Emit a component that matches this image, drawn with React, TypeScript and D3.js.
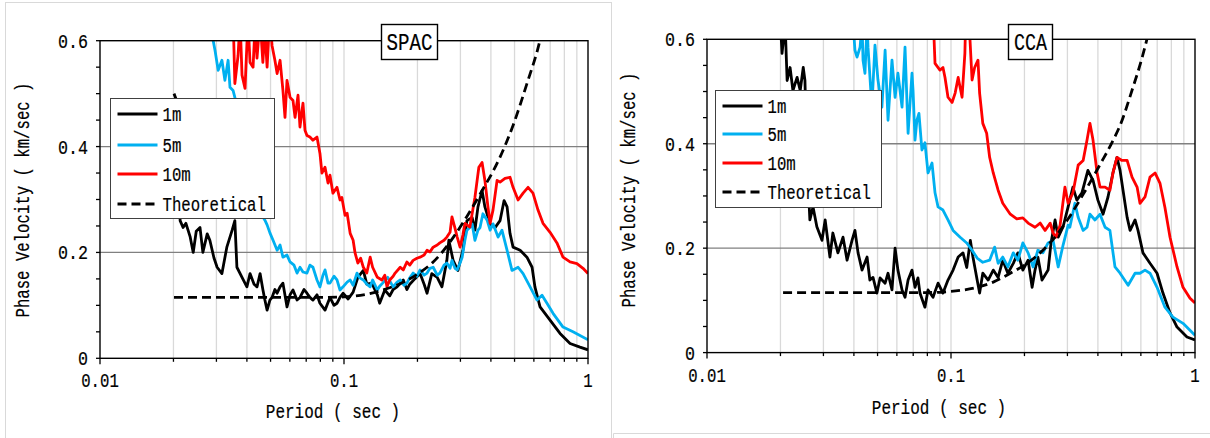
import React from "react";
import * as d3 from "d3";

type Pt = [number, number];

// ---------- shared axis data ----------
const xTickValues = [0.01, 0.1, 1];
const xTickLabels = ["0.01", "0.1", "1"];
const yTickValues = [0, 0.2, 0.4, 0.6];
const yTickLabels = ["0", "0.2", "0.4", "0.6"];
const seriesNames = ["1m", "5m", "10m", "Theoretical"];
const seriesColors = ["#000000", "#00b0f0", "#ff0000", "#000000"];
const xTitle = "Period ( sec )";
const yTitle = "Phase Velocity ( km/sec )";
const panelTitles = ["SPAC", "CCA"];

// ---------- SPAC (period sec, phase velocity km/s) ----------
const spac1m: Pt[] = [
  [0.0201, 0.5], [0.0205, 0.49], [0.0209, 0.42], [0.0213, 0.26], [0.0219, 0.247], [0.0225, 0.255],
  [0.0234, 0.23], [0.0241, 0.2], [0.0248, 0.24], [0.0257, 0.247], [0.0264, 0.2], [0.0275, 0.235],
  [0.0282, 0.223], [0.0293, 0.19], [0.0302, 0.172], [0.0316, 0.16], [0.0331, 0.21], [0.0348, 0.242],
  [0.0357, 0.26], [0.0364, 0.172], [0.0382, 0.153], [0.04, 0.135], [0.0412, 0.16], [0.0428, 0.14],
  [0.044, 0.135], [0.0453, 0.16], [0.0465, 0.13], [0.0474, 0.11], [0.0484, 0.091], [0.0497, 0.11],
  [0.0507, 0.115], [0.0521, 0.13], [0.0532, 0.123], [0.0547, 0.135], [0.0562, 0.142], [0.0584, 0.097],
  [0.0601, 0.12], [0.0618, 0.129], [0.0642, 0.11], [0.066, 0.115], [0.0686, 0.13], [0.0705, 0.123],
  [0.0725, 0.115], [0.0746, 0.11], [0.0775, 0.12], [0.0797, 0.104], [0.0836, 0.091], [0.0876, 0.115],
  [0.091, 0.1], [0.0936, 0.104], [0.0963, 0.115], [0.0991, 0.123], [0.104, 0.112], [0.109, 0.125],
  [0.114, 0.153], [0.12, 0.166], [0.124, 0.14], [0.13, 0.142], [0.137, 0.12], [0.14, 0.104],
  [0.147, 0.129], [0.154, 0.118], [0.159, 0.13], [0.165, 0.135], [0.175, 0.148], [0.181, 0.13],
  [0.186, 0.14], [0.195, 0.15], [0.205, 0.16], [0.213, 0.14], [0.219, 0.123], [0.229, 0.16],
  [0.241, 0.153], [0.252, 0.135], [0.264, 0.185], [0.269, 0.223], [0.28, 0.185], [0.293, 0.166],
  [0.307, 0.204], [0.319, 0.26], [0.335, 0.266], [0.344, 0.242], [0.354, 0.286], [0.368, 0.317],
  [0.378, 0.286], [0.397, 0.254], [0.416, 0.247], [0.436, 0.26], [0.453, 0.298], [0.466, 0.286],
  [0.479, 0.236], [0.493, 0.21], [0.527, 0.204], [0.562, 0.191], [0.59, 0.172], [0.606, 0.135],
  [0.636, 0.097], [0.699, 0.072], [0.768, 0.047], [0.844, 0.028], [0.927, 0.021], [1.0, 0.016],
];

const spac5m: Pt[] = [
  [0.0288, 0.65], [0.0291, 0.6], [0.0296, 0.582], [0.0305, 0.544], [0.0316, 0.563], [0.0325, 0.525],
  [0.0335, 0.563], [0.0341, 0.512], [0.0351, 0.506], [0.0357, 0.493], [0.0393, 0.42], [0.0432, 0.33],
  [0.0461, 0.27], [0.0474, 0.261], [0.0484, 0.252], [0.0497, 0.237], [0.0512, 0.223], [0.0532, 0.204],
  [0.0547, 0.214], [0.0562, 0.191], [0.0584, 0.195], [0.0601, 0.182], [0.0624, 0.176], [0.0642, 0.161],
  [0.066, 0.172], [0.0679, 0.163], [0.0705, 0.161], [0.0725, 0.176], [0.0746, 0.172], [0.0775, 0.148],
  [0.0797, 0.135], [0.082, 0.157], [0.0836, 0.167], [0.086, 0.142], [0.0876, 0.142], [0.091, 0.155],
  [0.0936, 0.148], [0.0963, 0.129], [0.0991, 0.135], [0.103, 0.144], [0.106, 0.148], [0.109, 0.138],
  [0.113, 0.161], [0.116, 0.152], [0.12, 0.148], [0.124, 0.14], [0.128, 0.135], [0.131, 0.148],
  [0.137, 0.129], [0.14, 0.136], [0.144, 0.142], [0.151, 0.153], [0.159, 0.135], [0.165, 0.144],
  [0.17, 0.148], [0.176, 0.138], [0.181, 0.142], [0.186, 0.152], [0.192, 0.161], [0.199, 0.155],
  [0.205, 0.167], [0.213, 0.157], [0.219, 0.161], [0.225, 0.17], [0.232, 0.172], [0.241, 0.157],
  [0.247, 0.161], [0.257, 0.176], [0.264, 0.18], [0.272, 0.17], [0.277, 0.185], [0.285, 0.17],
  [0.291, 0.167], [0.299, 0.18], [0.305, 0.191], [0.313, 0.223], [0.319, 0.242], [0.328, 0.247],
  [0.335, 0.254], [0.344, 0.223], [0.354, 0.242], [0.361, 0.247], [0.371, 0.273], [0.386, 0.261],
  [0.397, 0.242], [0.408, 0.254], [0.428, 0.229], [0.444, 0.242], [0.466, 0.204], [0.488, 0.166],
  [0.517, 0.172], [0.542, 0.16], [0.579, 0.135], [0.618, 0.11], [0.648, 0.119], [0.679, 0.104],
  [0.719, 0.085], [0.79, 0.059], [0.868, 0.05], [1.0, 0.035],
];

const spac10m: Pt[] = [
  [0.0351, 0.65], [0.0357, 0.519], [0.0368, 0.572], [0.0375, 0.64], [0.0382, 0.535], [0.0393, 0.51],
  [0.0404, 0.64], [0.0412, 0.559], [0.0424, 0.55], [0.0432, 0.63], [0.044, 0.567], [0.0453, 0.64],
  [0.0465, 0.559], [0.0474, 0.62], [0.0484, 0.55], [0.0497, 0.65], [0.0507, 0.591], [0.0521, 0.563],
  [0.0532, 0.538], [0.0547, 0.563], [0.0562, 0.506], [0.0573, 0.455], [0.0584, 0.525], [0.0601, 0.493],
  [0.0618, 0.487], [0.063, 0.455], [0.0648, 0.497], [0.066, 0.437], [0.0679, 0.482], [0.0692, 0.431],
  [0.0705, 0.421], [0.0725, 0.418], [0.0746, 0.412], [0.0775, 0.418], [0.0797, 0.387], [0.0812, 0.35],
  [0.0836, 0.361], [0.086, 0.331], [0.0876, 0.346], [0.0901, 0.312], [0.0936, 0.323], [0.0963, 0.299],
  [0.098, 0.304], [0.101, 0.27], [0.103, 0.274], [0.106, 0.236], [0.109, 0.223], [0.111, 0.199],
  [0.114, 0.18], [0.117, 0.189], [0.12, 0.172], [0.124, 0.161], [0.128, 0.191], [0.131, 0.172],
  [0.137, 0.153], [0.143, 0.148], [0.147, 0.157], [0.15, 0.135], [0.154, 0.148], [0.159, 0.155],
  [0.162, 0.161], [0.17, 0.172], [0.175, 0.167], [0.181, 0.182], [0.186, 0.176], [0.192, 0.185],
  [0.199, 0.189], [0.205, 0.191], [0.213, 0.195], [0.219, 0.204], [0.225, 0.201], [0.232, 0.21],
  [0.241, 0.214], [0.247, 0.218], [0.257, 0.223], [0.264, 0.229], [0.272, 0.238], [0.277, 0.267],
  [0.285, 0.246], [0.291, 0.229], [0.299, 0.21], [0.307, 0.233], [0.313, 0.255], [0.328, 0.248],
  [0.344, 0.304], [0.357, 0.361], [0.368, 0.37], [0.378, 0.336], [0.389, 0.286], [0.397, 0.255],
  [0.408, 0.28], [0.424, 0.336], [0.436, 0.333], [0.457, 0.34], [0.479, 0.342], [0.493, 0.323],
  [0.517, 0.299], [0.542, 0.312], [0.568, 0.323], [0.595, 0.312], [0.624, 0.28], [0.654, 0.255],
  [0.699, 0.238], [0.746, 0.218], [0.79, 0.191], [0.844, 0.182], [0.901, 0.179], [0.954, 0.17],
  [1.0, 0.16],
];

const spacTheory: Pt[] = [
  [0.0201, 0.115], [0.05, 0.115], [0.08, 0.115], [0.1, 0.116], [0.124, 0.121], [0.144, 0.129],
  [0.17, 0.141], [0.2, 0.159], [0.232, 0.182], [0.25, 0.198], [0.28, 0.228], [0.319, 0.268],
  [0.361, 0.31], [0.436, 0.38], [0.493, 0.44], [0.562, 0.519], [0.635, 0.6], [0.66, 0.635],
];

// ---------- CCA ----------
const cca1m: Pt[] = [
  [0.02, 0.63], [0.0203, 0.573], [0.0209, 0.63], [0.0213, 0.521], [0.0219, 0.546], [0.0225, 0.502],
  [0.0234, 0.527], [0.0241, 0.502], [0.0248, 0.546], [0.0252, 0.521], [0.0257, 0.37], [0.0264, 0.254],
  [0.0272, 0.279], [0.0282, 0.241], [0.0296, 0.215], [0.0305, 0.254], [0.0319, 0.183], [0.0328, 0.229],
  [0.0344, 0.191], [0.0361, 0.221], [0.0375, 0.177], [0.0393, 0.215], [0.0404, 0.234], [0.0416, 0.191],
  [0.0432, 0.158], [0.0453, 0.183], [0.0465, 0.139], [0.0479, 0.144], [0.0497, 0.114], [0.0512, 0.143],
  [0.0537, 0.133], [0.0552, 0.152], [0.0573, 0.12], [0.059, 0.2], [0.0606, 0.158], [0.063, 0.12],
  [0.0648, 0.106], [0.0667, 0.139], [0.0692, 0.158], [0.0712, 0.125], [0.0732, 0.143], [0.0746, 0.114],
  [0.0782, 0.087], [0.0805, 0.12], [0.0844, 0.106], [0.0885, 0.133], [0.0927, 0.114], [0.0972, 0.139],
  [0.102, 0.158], [0.107, 0.183], [0.112, 0.191], [0.116, 0.163], [0.12, 0.215], [0.123, 0.183],
  [0.128, 0.139], [0.131, 0.114], [0.135, 0.152], [0.142, 0.139], [0.149, 0.158], [0.156, 0.144],
  [0.163, 0.177], [0.171, 0.152], [0.18, 0.171], [0.188, 0.191], [0.197, 0.158], [0.207, 0.177],
  [0.215, 0.125], [0.221, 0.158], [0.227, 0.183], [0.236, 0.139], [0.25, 0.158], [0.257, 0.21],
  [0.267, 0.254], [0.275, 0.221], [0.288, 0.241], [0.302, 0.279], [0.316, 0.317], [0.328, 0.292],
  [0.344, 0.306], [0.364, 0.349], [0.382, 0.33], [0.4, 0.292], [0.42, 0.265], [0.44, 0.298],
  [0.461, 0.344], [0.479, 0.374], [0.493, 0.349], [0.507, 0.311], [0.527, 0.259], [0.542, 0.234],
  [0.568, 0.254], [0.584, 0.234], [0.612, 0.191], [0.654, 0.171], [0.699, 0.152], [0.739, 0.114],
  [0.79, 0.076], [0.844, 0.049], [0.927, 0.03], [1.0, 0.024],
];

const cca5m: Pt[] = [
  [0.0397, 0.63], [0.0404, 0.579], [0.0412, 0.566], [0.0424, 0.585], [0.0432, 0.63], [0.0436, 0.56],
  [0.0444, 0.535], [0.0453, 0.63], [0.0457, 0.585], [0.0474, 0.47], [0.0488, 0.589], [0.0502, 0.522],
  [0.0521, 0.47], [0.0537, 0.579], [0.0552, 0.445], [0.0573, 0.56], [0.059, 0.489], [0.0606, 0.535],
  [0.063, 0.47], [0.0648, 0.585], [0.0667, 0.42], [0.0692, 0.535], [0.0699, 0.502], [0.0712, 0.407],
  [0.0725, 0.445], [0.0739, 0.458], [0.076, 0.388], [0.0782, 0.402], [0.0805, 0.344], [0.0836, 0.363],
  [0.086, 0.306], [0.0885, 0.279], [0.0927, 0.273], [0.0972, 0.254], [0.102, 0.234], [0.109, 0.221],
  [0.116, 0.21], [0.122, 0.196], [0.128, 0.181], [0.135, 0.173], [0.144, 0.177], [0.151, 0.202],
  [0.156, 0.171], [0.163, 0.183], [0.171, 0.164], [0.18, 0.191], [0.188, 0.177], [0.197, 0.21],
  [0.207, 0.191], [0.217, 0.164], [0.227, 0.196], [0.238, 0.191], [0.25, 0.21], [0.262, 0.215],
  [0.275, 0.164], [0.288, 0.206], [0.302, 0.244], [0.307, 0.24], [0.322, 0.286], [0.332, 0.259],
  [0.348, 0.234], [0.361, 0.24], [0.371, 0.265], [0.389, 0.254], [0.408, 0.265], [0.428, 0.24],
  [0.448, 0.234], [0.47, 0.164], [0.493, 0.152], [0.532, 0.129], [0.568, 0.152], [0.595, 0.152],
  [0.624, 0.158], [0.654, 0.152], [0.699, 0.125], [0.753, 0.087], [0.812, 0.068], [0.893, 0.056],
  [0.981, 0.037], [1.0, 0.033],
];

const cca10m: Pt[] = [
  [0.0844, 0.65], [0.086, 0.554], [0.0901, 0.541], [0.0927, 0.546], [0.0945, 0.527], [0.0972, 0.489],
  [0.101, 0.479], [0.104, 0.497], [0.107, 0.527], [0.111, 0.489], [0.114, 0.573], [0.115, 0.65],
  [0.119, 0.62], [0.122, 0.522], [0.125, 0.546], [0.129, 0.56], [0.131, 0.497], [0.135, 0.439],
  [0.14, 0.42], [0.144, 0.374], [0.149, 0.344], [0.156, 0.311], [0.163, 0.286], [0.175, 0.265],
  [0.186, 0.256], [0.197, 0.258], [0.207, 0.248], [0.221, 0.24], [0.232, 0.248], [0.243, 0.234],
  [0.255, 0.248], [0.262, 0.229], [0.269, 0.221], [0.28, 0.244], [0.293, 0.317], [0.302, 0.286],
  [0.316, 0.306], [0.332, 0.359], [0.348, 0.368], [0.361, 0.407], [0.371, 0.439], [0.382, 0.407],
  [0.397, 0.344], [0.408, 0.317], [0.428, 0.317], [0.448, 0.311], [0.461, 0.344], [0.479, 0.374],
  [0.502, 0.368], [0.527, 0.368], [0.552, 0.336], [0.579, 0.317], [0.595, 0.286], [0.624, 0.298],
  [0.654, 0.336], [0.686, 0.344], [0.719, 0.324], [0.753, 0.278], [0.79, 0.221], [0.844, 0.164],
  [0.893, 0.125], [0.954, 0.104], [1.0, 0.095],
];

const ccaTheory: Pt[] = [
  [0.0205, 0.115], [0.05, 0.115], [0.08, 0.115], [0.093, 0.116], [0.109, 0.119], [0.128, 0.125],
  [0.149, 0.135], [0.175, 0.152], [0.205, 0.171], [0.238, 0.196], [0.272, 0.226], [0.298, 0.252],
  [0.348, 0.303], [0.408, 0.36], [0.46, 0.405], [0.493, 0.435], [0.556, 0.507], [0.596, 0.552],
  [0.635, 0.6], [0.66, 0.635],
];

// ---------- rendering ----------
const FONT = "'Liberation Mono', 'DejaVu Sans Mono', monospace";
const CW = 9.4;
const FS = 20;

function Txt(props: {
  x: number; y: number; text: string; anchor?: string; size?: number; cw?: number; rotate?: boolean;
}) {
  const { x, y, text, anchor = "start", size = FS, cw = CW, rotate = false } = props;
  return (
    <text
      x={x}
      y={y}
      textAnchor={anchor as any}
      fontFamily={FONT}
      fontSize={size}
      textLength={text.length * cw}
      lengthAdjust="spacingAndGlyphs"
      transform={rotate ? `rotate(-90 ${x} ${y})` : undefined}
      fill="#000"
      stroke="#000"
      strokeWidth={0.2}
    >
      {text}
    </text>
  );
}

type Cfg = {
  id: string;
  left: number; right: number; top: number; bottom: number;
  title: string; box: { x: number; y: number; w: number; h: number; tl: number };
  legend: { x: number; y: number; w: number; h: number; rows: number[] };
  yTitlePos: [number, number]; xTitlePos: [number, number];
};

function Chart({ cfg, series }: { cfg: Cfg; series: Pt[][] }) {
  const x = d3.scaleLog().domain([0.01, 1]).range([cfg.left, cfg.right]);
  const y = d3.scaleLinear().domain([0, 0.6]).range([cfg.bottom, cfg.top]);
  const line = d3.line<Pt>().x((d) => x(d[0])).y((d) => y(d[1]));
  const smooth = d3.line<Pt>().x((d) => x(d[0])).y((d) => y(d[1])).curve(d3.curveMonotoneX);
  const xt = x.ticks();
  const yMinor = d3.range(0, 0.6001, 0.05);
  const clipId = `clip-${cfg.id}`;
  const lg = cfg.legend;
  return (
    <g>
      <defs>
        <clipPath id={clipId}>
          <rect x={cfg.left} y={cfg.top} width={cfg.right - cfg.left} height={cfg.bottom - cfg.top} />
        </clipPath>
      </defs>
      {xt.filter((t) => t > 0.0101 && t < 0.99).map((t, i) => (
        <line key={"vg" + i} x1={x(t)} x2={x(t)} y1={cfg.top} y2={cfg.bottom} stroke="#d9d9d9" strokeWidth={1.3} />
      ))}
      {yTickValues.filter((v) => v > 0 && v < 0.6).map((v, i) => (
        <line key={"hg" + i} x1={cfg.left} x2={cfg.right} y1={y(v)} y2={y(v)} stroke="#808080" strokeWidth={1.3} />
      ))}
      <g clipPath={`url(#${clipId})`}>
        {series.map((s, i) => (
          <path
            key={"s" + i}
            d={(i === 3 ? smooth(s) : line(s)) || ""}
            fill="none"
            stroke={seriesColors[i]}
            strokeWidth={2.8}
            strokeLinejoin="round"
            strokeDasharray={i === 3 ? "9 5" : undefined}
          />
        ))}
      </g>
      <rect x={cfg.left} y={cfg.top} width={cfg.right - cfg.left} height={cfg.bottom - cfg.top}
        fill="none" stroke="#000" strokeWidth={1.4} />
      {yMinor.map((v, i) => (
        <line key={"yt" + i} x1={cfg.left - 4} x2={cfg.left} y1={y(v)} y2={y(v)} stroke="#000" strokeWidth={1.3} />
      ))}
      {xt.map((t, i) => {
        const major = xTickValues.some((m) => Math.abs(m - t) < 1e-9);
        return (
          <line key={"xt" + i} x1={x(t)} x2={x(t)} y1={cfg.bottom} y2={cfg.bottom + (major ? 6 : 3.5)} stroke="#000" strokeWidth={1.3} />
        );
      })}
      {yTickValues.map((v, i) => (
        <Txt key={"yl" + i} x={cfg.left - 12} y={y(v) + 7} text={yTickLabels[i]} anchor="end" cw={10} />
      ))}
      {xTickValues.map((t, i) => (
        <Txt key={"xl" + i} x={x(t)} y={cfg.bottom + 29} text={xTickLabels[i]} anchor="middle" />
      ))}
      <Txt x={cfg.xTitlePos[0]} y={cfg.xTitlePos[1]} text={xTitle} anchor="middle" cw={9.6} />
      <Txt x={cfg.yTitlePos[0]} y={cfg.yTitlePos[1]} text={yTitle} anchor="middle" rotate />
      {/* legend */}
      <rect x={lg.x + 0.5} y={lg.y + 0.5} width={lg.w} height={lg.h} fill="#fff" stroke="#404040" strokeWidth={1} />
      {seriesNames.map((n, i) => (
        <g key={"lg" + i}>
          <line x1={lg.x + 7.5} x2={lg.x + 47.5} y1={lg.rows[i]} y2={lg.rows[i]} stroke={seriesColors[i]}
            strokeWidth={2.8} strokeDasharray={i === 3 ? "9 5" : undefined} />
          <Txt x={lg.x + 52.5} y={lg.rows[i] + 7} text={n} />
        </g>
      ))}
      {/* title box */}
      <rect x={cfg.box.x + 0.5} y={cfg.box.y + 0.5} width={cfg.box.w} height={cfg.box.h} fill="#fff" stroke="#000" strokeWidth={1.4} />
      <text x={cfg.box.x + 0.5 + cfg.box.w / 2} y={cfg.box.y + 25.5} textAnchor="middle" fontFamily={FONT}
        fontSize={24} textLength={cfg.box.tl} lengthAdjust="spacingAndGlyphs" stroke="#000" strokeWidth={0.2}>{cfg.title}</text>
    </g>
  );
}

const leftCfg: Cfg = {
  id: "spac",
  left: 100, right: 588, top: 40.7, bottom: 358.3,
  title: panelTitles[0], box: { x: 381, y: 24, w: 56, h: 35, tl: 46 },
  legend: { x: 110, y: 98, w: 164, h: 120, rows: [114, 145, 174, 204] },
  yTitlePos: [29, 200], xTitlePos: [333, 418],
};

const rightCfg: Cfg = {
  id: "cca",
  left: 707, right: 1195, top: 39.3, bottom: 352.6,
  title: panelTitles[1], box: { x: 1008, y: 24, w: 44, h: 35, tl: 33 },
  legend: { x: 715, y: 90, w: 166, h: 117, rows: [106, 134, 163, 192] },
  yTitlePos: [635, 190], xTitlePos: [939, 414],
};

export default function App() {
  return (
    <svg width={1210} height={438} style={{ position: "absolute", left: 0, top: 0, display: "block", background: "#fff" }}>
      <rect x={0} y={0} width={1210} height={438} fill="#fff" />
      <rect x={5.5} y={2.5} width={606} height={450} fill="none" stroke="#d9d9d9" strokeWidth={1} />
      <line x1={613.5} x2={1210} y1={433.5} y2={433.5} stroke="#d9d9d9" strokeWidth={1} />
      <line x1={613.5} x2={613.5} y1={433.5} y2={438} stroke="#d9d9d9" strokeWidth={1} />
      <Chart cfg={leftCfg} series={[spac1m, spac5m, spac10m, spacTheory]} />
      <Chart cfg={rightCfg} series={[cca1m, cca5m, cca10m, ccaTheory]} />
    </svg>
  );
}
